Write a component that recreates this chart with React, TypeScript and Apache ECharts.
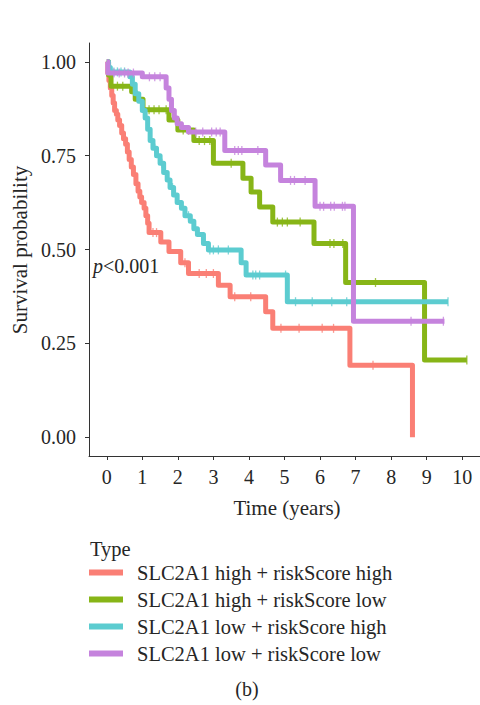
import React, { useEffect, useRef } from "react";
import * as echarts from "echarts";

const FONT = '"Liberation Serif", "Times New Roman", serif';
const INK = "#262626";

const groupNames = [
  "SLC2A1 high + riskScore high",
  "SLC2A1 high + riskScore low",
  "SLC2A1 low + riskScore high",
  "SLC2A1 low + riskScore low",
];
const groupColors = ["#FA7F75", "#87B517", "#5CCCD0", "#C583DD"];

// Kaplan–Meier steps: survival after each event time
const redTimes = [0, 0.03, 0.06, 0.1, 0.14, 0.18, 0.22, 0.27, 0.31, 0.36, 0.42, 0.47, 0.53, 0.58, 0.63, 0.69, 0.75, 0.82, 0.88, 0.93, 0.98, 1.05, 1.1, 1.15, 1.19, 1.52, 1.75, 2.08, 2.3, 3.14, 3.47, 4.47, 4.67, 6.84, 8.6];
const redSurv = [1, 0.97, 0.95, 0.93, 0.91, 0.89, 0.87, 0.86, 0.845, 0.83, 0.81, 0.795, 0.78, 0.76, 0.74, 0.72, 0.7, 0.675, 0.655, 0.64, 0.625, 0.61, 0.59, 0.57, 0.545, 0.52, 0.495, 0.465, 0.436, 0.405, 0.374, 0.334, 0.29, 0.192, 0];
const redCensor = [0.5, 0.9, 1.3, 1.4, 2.2, 2.6, 2.8, 3.0, 3.6, 4.05, 4.9, 5.41, 6.06, 6.38, 7.49];

const greenTimes = [0, 0.05, 0.12, 0.7, 0.8, 1.02, 1.75, 2.0, 2.45, 3.0, 3.83, 4.06, 4.3, 4.67, 5.83, 6.72, 8.94, 10.13];
const greenSurv = [1, 0.965, 0.935, 0.92, 0.9, 0.872, 0.845, 0.818, 0.79, 0.73, 0.69, 0.653, 0.613, 0.573, 0.516, 0.412, 0.206, 0.206];
const greenCensor = [0.3, 0.45, 1.19, 1.33, 1.47, 1.67, 2.15, 2.3, 2.6, 2.75, 2.9, 3.5, 4.8, 4.94, 5.08, 5.44, 6.28, 6.39, 6.64, 7.56, 10.13];

const cyanTimes = [0, 0.05, 0.1, 0.65, 0.72, 0.8, 0.9, 1.0, 1.08, 1.15, 1.22, 1.3, 1.4, 1.5, 1.6, 1.7, 1.78, 1.88, 1.98, 2.1, 2.2, 2.35, 2.45, 2.55, 2.72, 2.86, 3.78, 3.92, 5.08, 9.6];
const cyanSurv = [1, 0.985, 0.973, 0.96, 0.94, 0.915, 0.895, 0.87, 0.85, 0.82, 0.79, 0.77, 0.75, 0.73, 0.705, 0.685, 0.665, 0.645, 0.625, 0.61, 0.59, 0.575, 0.555, 0.54, 0.516, 0.499, 0.465, 0.432, 0.361, 0.361];
const cyanCensor = [0.2, 0.3, 0.4, 0.5, 1.35, 1.55, 1.85, 2.3, 2.9, 3.0, 3.14, 3.42, 4.11, 4.19, 4.3, 5.03, 5.31, 5.78, 6.33, 6.75, 9.6];

const purpleTimes = [0, 0.03, 1.0, 1.67, 1.75, 1.82, 1.9, 1.98, 2.1, 2.3, 3.32, 4.47, 4.89, 5.86, 6.94, 9.5];
const purpleSurv = [1, 0.97, 0.96, 0.93, 0.9, 0.87, 0.85, 0.835, 0.825, 0.813, 0.764, 0.725, 0.684, 0.615, 0.309, 0.309];
const purpleCensor = [0.2, 0.35, 0.5, 0.6, 0.75, 1.2, 1.35, 1.5, 2.5, 2.7, 2.95, 3.08, 3.19, 3.6, 3.7, 3.8, 4.25, 5.17, 5.28, 5.58, 6.0, 6.1, 6.3, 6.4, 6.63, 6.7, 8.56, 9.47];

const xTicks = [0, 1, 2, 3, 4, 5, 6, 7, 8, 9, 10];
const yTicks = [0, 0.25, 0.5, 0.75, 1];

const groups = [
  { times: redTimes, surv: redSurv, censor: redCensor },
  { times: greenTimes, surv: greenSurv, censor: greenCensor },
  { times: cyanTimes, surv: cyanSurv, censor: cyanCensor },
  { times: purpleTimes, surv: purpleSurv, censor: purpleCensor },
];

function survAt(times: number[], surv: number[], t: number) {
  let v = surv[0];
  for (let i = 0; i < times.length; i++) {
    if (times[i] <= t) v = surv[i];
  }
  return v;
}

export default function App() {
  const ref = useRef<HTMLDivElement>(null);

  useEffect(() => {
    if (!ref.current) return;
    const chart = echarts.init(ref.current, undefined, { renderer: "svg" });

    const lineSeries = groups.map((g, k) => ({
      name: groupNames[k],
      type: "line",
      step: "end",
      symbol: "none",
      showSymbol: false,
      z: 2 + k,
      lineStyle: { width: 5, color: groupColors[k], join: "round" },
      itemStyle: { color: groupColors[k] },
      data: g.times.map((t, i) => [t, g.surv[i]]),
    }));

    const censorSeries = groups.map((g, k) => ({
      name: "censor-" + k,
      type: "scatter",
      symbol: "rect",
      symbolSize: [1.3, 9],
      z: 2 + k,
      itemStyle: { color: groupColors[k] },
      data: g.censor.map((t) => [t, survAt(g.times, g.surv, t)]),
    }));

    chart.setOption({
      animation: false,
      backgroundColor: "#ffffff",
      grid: { left: 89, top: 43, width: 396, height: 413 },
      xAxis: {
        type: "value",
        min: -0.5,
        max: 10.5,
        splitLine: { show: false },
        axisLine: { onZero: false, lineStyle: { color: "#333", width: 1 } },
        axisTick: { length: 4, customValues: xTicks, lineStyle: { color: "#333" } },
        axisLabel: {
          customValues: xTicks,
          margin: 11,
          fontSize: 20,
          fontFamily: FONT,
          color: INK,
        },
      },
      yAxis: {
        type: "value",
        min: -0.05,
        max: 1.05,
        splitLine: { show: false },
        axisLine: { onZero: false, lineStyle: { color: "#333", width: 1 } },
        axisTick: { length: 4, customValues: yTicks, lineStyle: { color: "#333" } },
        axisLabel: {
          customValues: yTicks,
          margin: 13,
          fontSize: 20,
          fontFamily: FONT,
          color: INK,
          formatter: (v: number) => v.toFixed(2),
        },
      },
      legend: {
        orient: "vertical",
        left: 89,
        top: 562,
        padding: 0,
        itemWidth: 34,
        itemHeight: 6,
        itemGap: 6,
        icon: "rect",
        selectedMode: false,
        data: groupNames,
        textStyle: {
          fontSize: 20.5,
          fontFamily: FONT,
          color: INK,
          lineHeight: 20,
          padding: [0, 0, 0, 9],
        },
      },
      graphic: [
        {
          type: "text",
          x: 20,
          y: 250,
          rotation: Math.PI / 2,
          style: {
            text: "Survival probability",
            fontSize: 21,
            fontFamily: FONT,
            fill: INK,
            align: "center",
            verticalAlign: "middle",
          },
        },
        {
          type: "text",
          x: 287,
          y: 508,
          style: {
            text: "Time (years)",
            fontSize: 21,
            fontFamily: FONT,
            fill: INK,
            align: "center",
            verticalAlign: "middle",
          },
        },
        {
          type: "text",
          x: 93,
          y: 266,
          style: {
            text: "{i|p}<0.001",
            fontSize: 20,
            fontFamily: FONT,
            fill: INK,
            verticalAlign: "middle",
            rich: {
              i: { fontStyle: "italic", fontSize: 20, fontFamily: FONT, fill: INK },
            },
          },
        },
        {
          type: "text",
          x: 90,
          y: 549,
          style: {
            text: "Type",
            fontSize: 20.5,
            fontFamily: FONT,
            fill: INK,
            verticalAlign: "middle",
          },
        },
        {
          type: "text",
          x: 247,
          y: 689,
          style: {
            text: "(b)",
            fontSize: 20,
            fontFamily: FONT,
            fill: INK,
            align: "center",
            verticalAlign: "middle",
          },
        },
      ],
      series: [...lineSeries, ...censorSeries],
    });

    return () => chart.dispose();
  }, []);

  return (
    <div
      ref={ref}
      style={{ position: "absolute", left: 0, top: 0, width: 480, height: 705 }}
    />
  );
}
